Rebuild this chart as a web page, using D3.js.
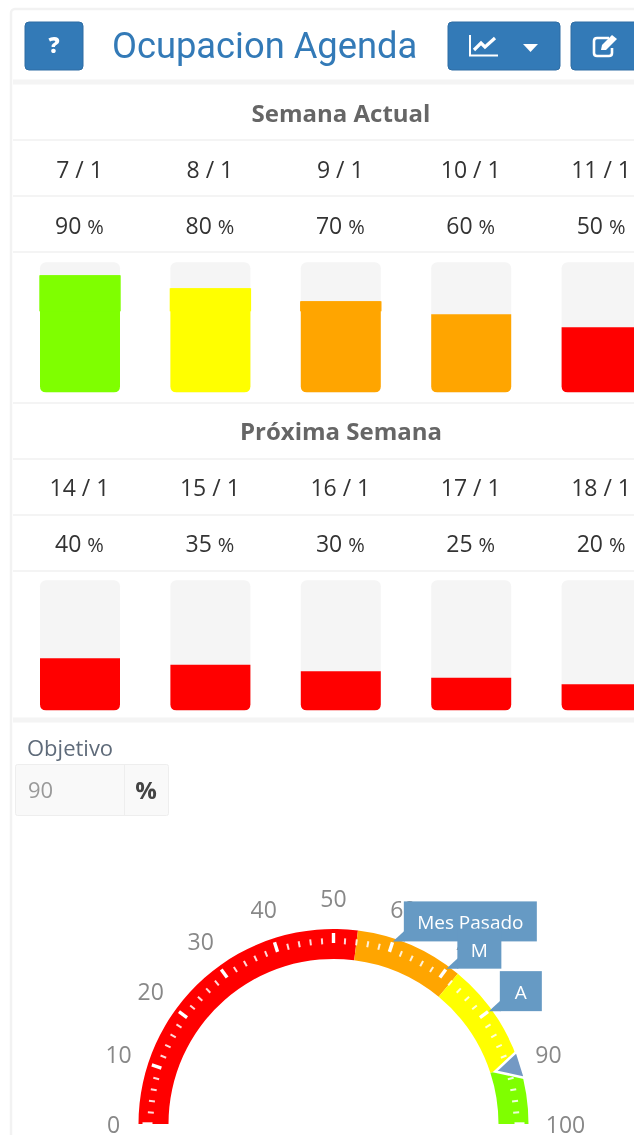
<!DOCTYPE html>
<html>
<head>
<meta charset="utf-8">
<script src="https://cdn.jsdelivr.net/npm/d3@7"></script>
<style>
  html, body { margin: 0; padding: 0; background: #fff; overflow: hidden; }
  svg { display: block; filter: blur(0.45px); }
  text { font-family: "Open Sans", sans-serif; }
</style>
</head>
<body>
<script>
var w = 634;
var h = 1135;

// week rows
var thisWeekDays = ["7 / 1", "8 / 1", "9 / 1", "10 / 1", "11 / 1"];
var thisWeekValues = [90, 80, 70, 60, 50];
var nextWeekDays = ["14 / 1", "15 / 1", "16 / 1", "17 / 1", "18 / 1"];
var nextWeekValues = [40, 35, 30, 25, 20];

// gauge
var gaugeTicks = [0, 10, 20, 30, 40, 50, 60, 70, 80, 90, 100];
var gaugeMinor = [2, 4, 6, 8];
var bandLimits = [54, 72, 90];
var bandColors = ["#ff0000", "#ffa500", "#ffff00", "#7fff00"];
var objective = 90;
var pointerNames = ["Mes Pasado", "M", "A"];
var pointerValues = [60, 70, 80];
var pointerWidths = [133, 44, 42];

var lineColor = "#f4f4f4";
var blue = "#337ab7";

var svg = d3.select("body").append("svg").attr("width", w).attr("height", h);

var color = d3.scaleThreshold().domain(bandLimits).range(bandColors);

// card edge
svg.append("rect").attr("x", 11).attr("y", 9).attr("width", 700).attr("height", 1200)
   .attr("rx", 4).attr("fill", "#fff").attr("stroke", "#f2f2f2").attr("stroke-width", 2.5);

// header
function button(x, bw) {
  svg.append("rect").attr("x", x).attr("y", 22).attr("width", bw).attr("height", 48)
     .attr("rx", 4).attr("fill", blue).attr("stroke", "#2e6da4");
}
button(25, 58);
button(448, 112);
button(571, 90);
svg.append("text").attr("x", 54).attr("y", 53).attr("text-anchor", "middle")
   .attr("font-size", 22).attr("font-weight", 800).attr("fill", "#fff").text("?");
svg.append("text").attr("x", 112).attr("y", 58).attr("fill", blue)
   .style("font-family", "Roboto").attr("font-size", 36.3).text("Ocupacion Agenda");

// chart icon
svg.append("path").attr("d", "M470 35V55.5H498").attr("fill", "none").attr("stroke", "#fff").attr("stroke-width", 2);
svg.append("path").attr("d", "M474 50L481 43L485 47L495 38").attr("fill", "none").attr("stroke", "#fff").attr("stroke-width", 3.2);
// caret
svg.append("path").attr("d", "M523 44H538L530.5 52Z").attr("fill", "#fff");
// edit icon
svg.append("path").attr("d", "M609 38H597Q594 38 594 41V53Q594 56 597 56H609Q612 56 612 53V48")
   .attr("fill", "none").attr("stroke", "#fff").attr("stroke-width", 2.6);
svg.append("path").attr("d", "M601 50L602 45L612 35L617 39L606 50Z").attr("fill", "#fff");

// separators
[[82, 5], [140, 2], [196, 2], [252, 2], [403, 2], [459, 2], [515, 2], [571, 2], [720, 5]].forEach(function(l) {
  svg.append("rect").attr("x", 13).attr("y", l[0] - l[1] / 2).attr("width", w).attr("height", l[1]).attr("fill", lineColor);
});

// week blocks
var xBar = d3.scaleBand().domain(d3.range(5)).range([40, 641.6]).paddingInner(0.3865).paddingOuter(0);
var yBar = d3.scaleLinear().domain([0, 100]).range([130, 0]);
var barR = 6;

function fillPath(x, y, bw, bottom) {
  var p = d3.path();
  p.moveTo(x, y);
  p.lineTo(x + bw, y);
  p.lineTo(x + bw, bottom - barR);
  p.quadraticCurveTo(x + bw, bottom, x + bw - barR, bottom);
  p.lineTo(x + barR, bottom);
  p.quadraticCurveTo(x, bottom, x, bottom - barR);
  p.closePath();
  return p.toString();
}

function weekBlock(title, titleY, days, values, top) {
  var g = svg.append("g");
  g.append("text").attr("x", 341).attr("y", titleY).attr("text-anchor", "middle")
   .attr("font-size", 24).attr("font-weight", 700).attr("fill", "#666").text(title);

  days.forEach(function(d, i) {
    var cx = xBar(i) + xBar.bandwidth() / 2 - 0.5;
    g.append("text").attr("x", cx).attr("y", top - 84.5).attr("text-anchor", "middle")
     .attr("font-size", 23).attr("fill", "#333").text(d);
    var pct = g.append("text").attr("x", cx).attr("y", top - 28.5).attr("text-anchor", "middle")
     .attr("font-size", 23).attr("fill", "#333").text(values[i] + " ");
    pct.append("tspan").attr("font-size", 20).text("%");

    g.append("rect").attr("x", xBar(i)).attr("y", top).attr("width", xBar.bandwidth()).attr("height", 130)
     .attr("rx", barR).attr("fill", "#f5f5f5");
    g.append("path").attr("d", fillPath(xBar(i), top + yBar(values[i]), xBar.bandwidth(), top + 130))
     .attr("fill", color(values[i]));
    // top half of the fill sits a pixel wider
    if (yBar(values[i]) < 49) {
      g.append("rect").attr("x", xBar(i) - 0.7).attr("y", top + yBar(values[i]))
       .attr("width", xBar.bandwidth() + 1.4).attr("height", 49 - yBar(values[i])).attr("fill", color(values[i]));
    }
  });
}
weekBlock("Semana Actual", 122, thisWeekDays, thisWeekValues, 262.3);
weekBlock("Próxima Semana", 440, nextWeekDays, nextWeekValues, 580.3);

// objective input
svg.append("text").attr("x", 27).attr("y", 756).attr("font-size", 22).attr("fill", "#5f6b7a").text("Objetivo");
svg.append("rect").attr("x", 15.5).attr("y", 764.5).attr("width", 153).attr("height", 51).attr("rx", 2)
   .attr("fill", "#f9f9f9").attr("stroke", "#eee");
svg.append("line").attr("x1", 124.5).attr("x2", 124.5).attr("y1", 765).attr("y2", 815).attr("stroke", "#eee");
svg.append("text").attr("x", 28).attr("y", 798).attr("font-size", 22).attr("fill", "#999").text(objective);
svg.append("text").attr("x", 146).attr("y", 799).attr("text-anchor", "middle").attr("font-size", 24).attr("font-weight", 700).attr("fill", "#444").text("%");

// gauge
var cx = 333.5, cy = 1124, rOuter = 195, rInner = 165;
var angle = d3.scaleLinear().domain([0, 100]).range([-Math.PI / 2, Math.PI / 2]);
var arc = d3.arc().innerRadius(rInner).outerRadius(rOuter);
var gauge = svg.append("g").attr("transform", "translate(" + cx + "," + cy + ")");

function polar(v, r) {
  return [r * Math.sin(angle(v)), -r * Math.cos(angle(v))];
}

var limits = [0].concat(bandLimits, [100]);
gauge.selectAll("path.band").data(bandColors).enter().append("path").attr("class", "band")
  .attr("d", function(d, i) { return arc({ startAngle: angle(limits[i]), endAngle: angle(limits[i + 1]) }); })
  .attr("fill", function(d) { return d; });

// ticks
function tick(v, r0, r1, sw, op) {
  var a = polar(v, r0), b = polar(v, r1);
  gauge.append("line").attr("x1", a[0]).attr("y1", a[1]).attr("x2", b[0]).attr("y2", b[1])
    .attr("stroke", "#fff").attr("stroke-width", sw).attr("opacity", op);
}
gaugeTicks.forEach(function(t) {
  tick(t, 181, 191, 3.4, 1);
  if (t < 100) gaugeMinor.forEach(function(m) { tick(t + m, 180, 186, 2, 0.85); });
});

// tick labels, the two ends sit further right
gauge.selectAll("text.lab").data(gaugeTicks).enter().append("text").attr("class", "lab")
  .attr("x", function(d) { return polar(d, 226)[0] + (d === 0 || d === 100 ? 6 : 0); })
  .attr("y", function(d) { return polar(d, 226)[1] + 9; })
  .attr("text-anchor", "middle").attr("font-size", 23).attr("fill", "#888")
  .text(function(d) { return d; });

// objective marker
var mark = [polar(objective, 170), polar(objective + 2.5, 197), polar(objective - 2, 197)];
gauge.append("path").attr("d", "M" + mark.join("L") + "Z")
  .attr("fill", "#7499c4").attr("stroke", "#fff").attr("stroke-width", 2.5).attr("stroke-linejoin", "miter");

// pointers
pointerNames.forEach(function(name, i) {
  var tip = polar(pointerValues[i], 192);
  var bw = pointerWidths[i], bh = 40;
  var bx = tip[0] + 11, by = tip[1] - bh;
  var g = gauge.append("g");
  g.append("path").attr("d", "M" + tip + "L" + [bx + 1, tip[1] - 11] + "L" + [bx + 1, tip[1]] + "Z").attr("fill", "#669ac4");
  g.append("rect").attr("x", bx).attr("y", by).attr("width", bw).attr("height", bh).attr("fill", "#669ac4");
  g.append("text").attr("x", bx + bw / 2).attr("y", by + 28).attr("text-anchor", "middle")
   .attr("font-size", 19).attr("fill", "#fff").text(name);
});
</script>
</body>
</html>
